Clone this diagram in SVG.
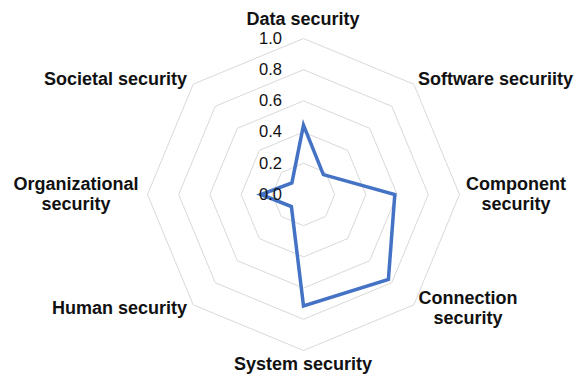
<svg xmlns="http://www.w3.org/2000/svg" width="577" height="378" viewBox="0 0 577 378">
  <style>
    .grid { fill: none; stroke: #d9d9d9; stroke-width: 1; }
    .series { fill: none; stroke: #4472c4; stroke-width: 3.5; stroke-linejoin: miter; }
    .cat { font-family: "Liberation Sans", Arial, sans-serif; font-weight: bold; font-size: 18px; fill: #111; }
    .tick { font-family: "Liberation Sans", Arial, sans-serif; font-size: 16.5px; fill: #111; text-anchor: end; }
  </style>
  <rect width="577" height="378" fill="#fff"/>

  <!-- concentric octagon gridlines, 0.2 to 1.0 -->
  <g id="gridlines">
    <polygon class="grid" points="303.5,163.3 325.56,172.44 334.7,194.5 325.56,216.56 303.5,225.7 281.44,216.56 272.3,194.5 281.44,172.44"/>
    <polygon class="grid" points="303.5,132.1 347.62,150.38 365.9,194.5 347.62,238.62 303.5,256.9 259.38,238.62 241.1,194.5 259.38,150.38"/>
    <polygon class="grid" points="303.5,100.9 369.69,128.31 397.1,194.5 369.69,260.69 303.5,288.1 237.31,260.69 209.9,194.5 237.31,128.31"/>
    <polygon class="grid" points="303.5,69.7 391.75,106.25 428.3,194.5 391.75,282.75 303.5,319.3 215.25,282.75 178.7,194.5 215.25,106.25"/>
    <polygon class="grid" points="303.5,38.5 413.81,84.19 459.5,194.5 413.81,304.81 303.5,350.5 193.19,304.81 147.5,194.5 193.19,84.19"/>
  </g>

  <!-- data series -->
  <g id="connectors">
    <polygon class="series" points="303.5,125.1 323.36,174.64 394.8,194.5 388.4,279.4 303.5,306 291.4,206.6 261,194.5 291.9,182.9"/>
  </g>

  <!-- radial axis values -->
  <g id="axis-values">
    <text class="tick" x="282" y="44">1.0</text>
    <text class="tick" x="282" y="75">0.8</text>
    <text class="tick" x="282" y="106.2">0.6</text>
    <text class="tick" x="282" y="137.4">0.4</text>
    <text class="tick" x="282" y="168.6">0.2</text>
    <text class="tick" x="282" y="199.8">0.0</text>
  </g>

  <!-- category labels -->
  <g id="data-security"><text class="cat" x="303" y="25" text-anchor="middle">Data security</text></g>
  <g id="software-security"><text class="cat" x="418" y="85">Software securiity</text></g>
  <g id="component-security">
    <text class="cat" x="516" y="189.5" text-anchor="middle">Component</text>
    <text class="cat" x="516" y="209.5" text-anchor="middle">security</text>
  </g>
  <g id="connection-security">
    <text class="cat" x="468" y="304" text-anchor="middle">Connection</text>
    <text class="cat" x="468" y="324" text-anchor="middle">security</text>
  </g>
  <g id="system-security"><text class="cat" x="303" y="370" text-anchor="middle">System security</text></g>
  <g id="human-security"><text class="cat" x="187" y="313.5" text-anchor="end">Human security</text></g>
  <g id="organizational-security">
    <text class="cat" x="76" y="189.5" text-anchor="middle">Organizational</text>
    <text class="cat" x="76" y="209.5" text-anchor="middle">security</text>
  </g>
  <g id="societal-security"><text class="cat" x="187" y="85" text-anchor="end">Societal security</text></g>
</svg>
